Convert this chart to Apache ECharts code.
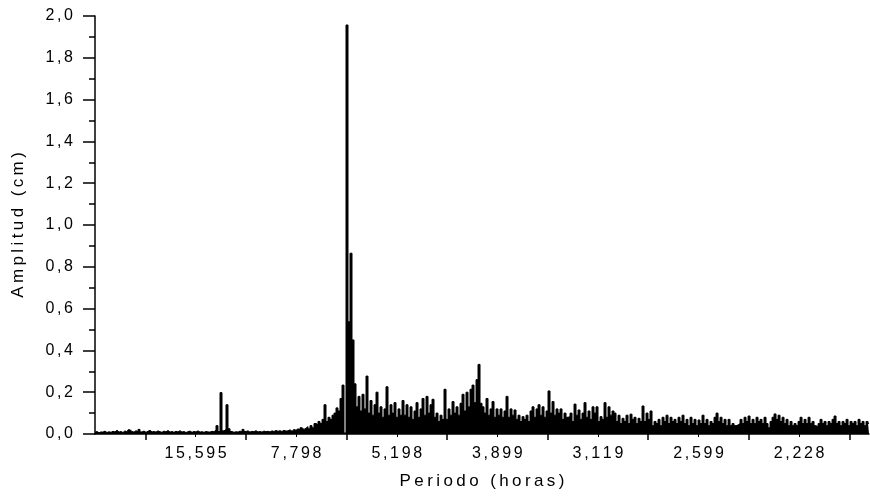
<!DOCTYPE html>
<html>
<head>
<meta charset="utf-8">
<script src="https://cdn.jsdelivr.net/npm/echarts@6/dist/echarts.min.js"></script>
<style>
  html, body { margin: 0; padding: 0; background: #fff; }
  #chart { width: 870px; height: 499px; }
</style>
</head>
<body>
<div id="chart"></div>
<script>
// spectrum sampled on a uniform frequency grid (cycles / hour)
const freqStep = 0.001275
const freqMax = 0.4934

// period tick labels (hours), placed at frequency 1 / period
const periodLabels = [15.595, 7.798, 5.198, 3.899, 3.119, 2.599, 2.228]

// amplitude (cm), one value per frequency step
const amplitude = [
  0.008, 0.012, 0.006, 0.01, 0.009, 0.014, 0.007, 0.011, 0.008, 0.013,
  0.01, 0.018, 0.009, 0.012, 0.007, 0.015, 0.01, 0.02, 0.012, 0.009,
  0.016, 0.011, 0.022, 0.01, 0.014, 0.008, 0.013, 0.018, 0.01, 0.012,
  0.009, 0.015, 0.011, 0.008, 0.014, 0.01, 0.017, 0.009, 0.012, 0.008,
  0.013, 0.01, 0.016, 0.009, 0.012, 0.007, 0.011, 0.014, 0.008, 0.012,
  0.01, 0.015, 0.009, 0.011, 0.008, 0.012,
  0.01, 0.009, 0.013, 0.011, 0.018, 0.04, 0.012, 0.198, 0.015, 0.022, 0.14, 0.025,
  0.012, 0.008, 0.011, 0.009, 0.014, 0.01, 0.022, 0.012, 0.015, 0.009,
  0.013, 0.011, 0.016, 0.01, 0.012, 0.009, 0.014, 0.011, 0.013, 0.01,
  0.015, 0.012, 0.017, 0.013, 0.016, 0.012, 0.018, 0.014,
  0.015, 0.02, 0.013, 0.022, 0.018, 0.025, 0.02, 0.03, 0.022, 0.028,
  0.035, 0.025, 0.04, 0.03, 0.05, 0.045, 0.06, 0.05, 0.07, 0.14,
  0.06, 0.08, 0.07, 0.09, 0.1, 0.125, 0.11, 0.17, 0.234, 0.005,
  1.957, 0.537, 0.865, 0.45,
  0.24, 0.13, 0.18, 0.11, 0.19, 0.12, 0.277, 0.1, 0.16, 0.09,
  0.14, 0.2, 0.1, 0.13, 0.08, 0.12, 0.226, 0.09, 0.14, 0.1,
  0.15, 0.08, 0.12, 0.09, 0.16, 0.09, 0.14, 0.08, 0.13, 0.07,
  0.11, 0.15, 0.08, 0.12, 0.17, 0.09, 0.18, 0.1, 0.14, 0.166,
  0.08, 0.1, 0.06, 0.09, 0.07, 0.214, 0.07, 0.12, 0.09, 0.155,
  0.1, 0.13, 0.09, 0.147, 0.19, 0.11, 0.2, 0.13, 0.214, 0.234,
  0.15, 0.26, 0.333, 0.147, 0.13, 0.1, 0.17, 0.09, 0.12, 0.155,
  0.08, 0.12, 0.09, 0.12, 0.08, 0.11, 0.18, 0.08, 0.12, 0.09,
  0.115, 0.07, 0.09, 0.06, 0.083, 0.07, 0.09, 0.06, 0.11, 0.13,
  0.08, 0.12, 0.14, 0.09, 0.13, 0.08, 0.11, 0.206, 0.1, 0.155,
  0.09, 0.12, 0.1, 0.12, 0.07, 0.1, 0.08, 0.083, 0.1, 0.06,
  0.143, 0.09, 0.115, 0.07, 0.1, 0.15, 0.08, 0.11, 0.07, 0.13,
  0.1, 0.13, 0.06, 0.083, 0.07, 0.15, 0.08, 0.13, 0.09, 0.11,
  0.1, 0.06, 0.09, 0.05, 0.075, 0.06, 0.09, 0.05, 0.095, 0.07,
  0.08, 0.05, 0.075, 0.06, 0.134, 0.06, 0.1, 0.07, 0.11, 0.04,
  0.06, 0.05, 0.07, 0.04, 0.08, 0.06, 0.09, 0.05, 0.08, 0.06,
  0.07, 0.05, 0.08, 0.06, 0.09, 0.05, 0.07, 0.04, 0.08, 0.05,
  0.07, 0.04, 0.067, 0.05, 0.09, 0.05, 0.07, 0.04, 0.06, 0.05,
  0.08, 0.1, 0.06, 0.08, 0.05, 0.07, 0.04, 0.07, 0.04, 0.05,
  0.04, 0.043, 0.05, 0.07, 0.05, 0.08, 0.06, 0.086, 0.05, 0.07,
  0.05, 0.08, 0.06, 0.07, 0.05, 0.08, 0.05, 0.03, 0.06, 0.08,
  0.096, 0.07, 0.09, 0.06, 0.08, 0.05, 0.07, 0.04, 0.06, 0.04,
  0.05, 0.04, 0.06, 0.08, 0.05, 0.07, 0.05, 0.08, 0.05, 0.06,
  0.04, 0.035, 0.05, 0.07, 0.05, 0.06, 0.04, 0.06, 0.05, 0.07,
  0.086, 0.05, 0.06, 0.04, 0.06, 0.05, 0.07, 0.04, 0.06, 0.05,
  0.06, 0.04, 0.07, 0.05, 0.06, 0.04, 0.06, 0.05,
]

const FONT = '"Liberation Sans", Arial, sans-serif'
// the original text is letter-spaced; narrow spaces between glyphs imitate it
const spaced = (s, gap) => s.split('').join(gap)
const tickGap = '\u2006'
const nameGap = '\u2009'

const labelFreqs = periodLabels.map((p) => 1 / p)
const majorTickFreqs = periodLabels.map((p, k) => (k + 0.5) * labelFreqs[0])
majorTickFreqs.push((periodLabels.length + 0.5) * labelFreqs[0])

const chart = echarts.init(document.getElementById('chart'))

chart.setOption({
  backgroundColor: '#fff',
  animation: false,
  grid: { left: 95, right: 1, top: 16, bottom: 65 },
  xAxis: [
    {
      type: 'value',
      min: 0,
      max: freqMax,
      position: 'bottom',
      name: spaced('Periodo (horas)', nameGap),
      nameLocation: 'middle',
      nameGap: 39,
      nameTextStyle: { color: '#000', fontSize: 17, fontFamily: FONT },
      axisLine: { lineStyle: { color: '#000', width: 1.5 } },
      axisTick: {
        customValues: majorTickFreqs,
        length: 6,
        lineStyle: { color: '#000', width: 1.5 },
      },
      axisLabel: {
        customValues: labelFreqs,
        margin: 12,
        color: '#000',
        fontSize: 16,
        fontFamily: FONT,
        formatter: (v) => spaced((1 / v).toFixed(3).replace('.', ','), tickGap),
      },
      splitLine: { show: false },
    },
    {
      type: 'value',
      min: 0,
      max: freqMax,
      position: 'bottom',
      axisLine: { show: false },
      axisTick: {
        customValues: labelFreqs,
        length: 3,
        lineStyle: { color: '#000', width: 1 },
      },
      axisLabel: { show: false },
      splitLine: { show: false },
    },
  ],
  yAxis: {
    type: 'value',
    min: 0,
    max: 2,
    interval: 0.2,
    name: spaced('Amplitud (cm)', nameGap),
    nameLocation: 'middle',
    nameGap: 68,
    nameTextStyle: { color: '#000', fontSize: 17, fontFamily: FONT },
    axisLine: { show: true, lineStyle: { color: '#000', width: 1.5 } },
    axisTick: { show: true, length: 12, lineStyle: { color: '#000', width: 1.5 } },
    minorTick: { show: true, splitNumber: 2, length: 6, lineStyle: { color: '#000', width: 1.5 } },
    axisLabel: {
      margin: 22,
      color: '#000',
      fontSize: 16,
      fontFamily: FONT,
      formatter: (v) => spaced(v.toFixed(1).replace('.', ','), tickGap),
    },
    splitLine: { show: false },
  },
  series: [
    {
      type: 'line',
      xAxisIndex: 0,
      step: 'middle',
      showSymbol: false,
      data: amplitude.map((a, i) => [i * freqStep, a]),
      lineStyle: { color: '#000', width: 1 },
      areaStyle: { color: '#000', opacity: 1 },
    },
  ],
})
</script>
</body>
</html>
